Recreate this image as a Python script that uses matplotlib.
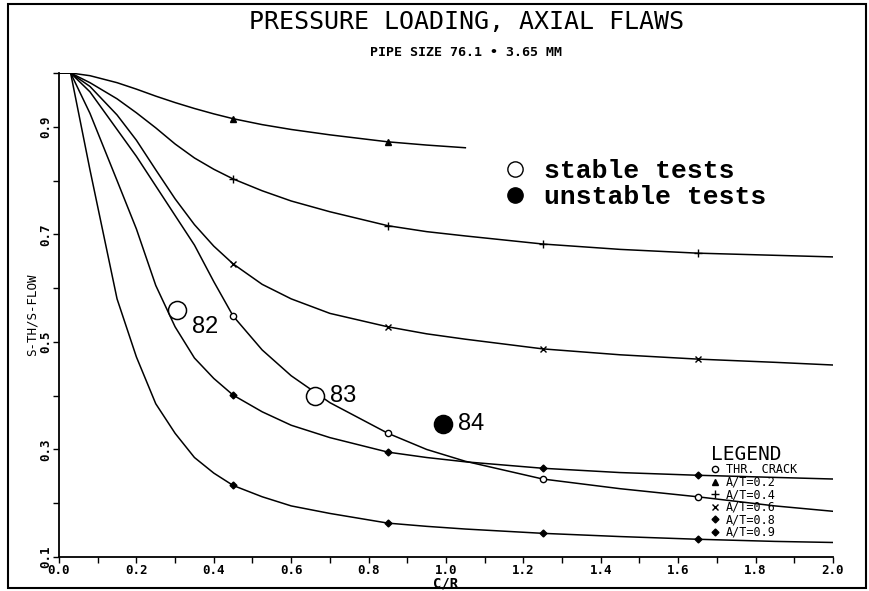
import matplotlib
matplotlib.use("Agg")
import matplotlib.pyplot as plt
from matplotlib.lines import Line2D
from matplotlib.patches import Rectangle

# C/R grid the curves were tabulated on
c_r = [0.0, 0.03, 0.08, 0.15, 0.2, 0.25, 0.3, 0.35, 0.4, 0.45, 0.525, 0.6,
       0.7, 0.85, 0.95, 1.05, 1.25, 1.45, 1.65, 1.85, 2.0]
mark_at = [0.45, 0.85, 1.25, 1.65]

# S-TH/S-FLOW for each flaw depth
at_02 = [1.0, 1.0, 0.995, 0.982, 0.970, 0.957, 0.945, 0.934, 0.924, 0.915,
         0.904, 0.895, 0.885, 0.872, 0.866, 0.861]
at_04 = [1.0, 1.0, 0.982, 0.952, 0.926, 0.898, 0.868, 0.842, 0.821, 0.803,
         0.781, 0.762, 0.742, 0.716, 0.705, 0.697, 0.682, 0.672, 0.665, 0.661,
         0.658]
at_06 = [1.0, 1.0, 0.975, 0.922, 0.875, 0.820, 0.766, 0.718, 0.678, 0.645,
         0.607, 0.580, 0.553, 0.528, 0.515, 0.505, 0.487, 0.476, 0.468, 0.462,
         0.457]
thr_crack = [1.0, 1.0, 0.965, 0.895, 0.845, 0.790, 0.735, 0.680, 0.612, 0.548,
             0.485, 0.437, 0.387, 0.330, 0.300, 0.278, 0.245, 0.227, 0.212,
             0.195, 0.185]
at_08 = [1.0, 1.0, 0.925, 0.800, 0.710, 0.605, 0.528, 0.470, 0.432, 0.401,
         0.370, 0.345, 0.322, 0.295, 0.285, 0.277, 0.265, 0.257, 0.252, 0.248,
         0.245]
at_09 = [1.0, 1.0, 0.820, 0.580, 0.472, 0.385, 0.330, 0.285, 0.256, 0.233,
         0.212, 0.195, 0.181, 0.163, 0.157, 0.152, 0.144, 0.138, 0.133, 0.129,
         0.127]

# pipe tests
test_cr = [0.305, 0.661, 0.992]
test_s = [0.559, 0.399, 0.347]
test_id = ["82", "83", "84"]
test_stable = [True, True, False]

legend_labels = ["THR. CRACK", "A/T=0.2", "A/T=0.4", "A/T=0.6", "A/T=0.8", "A/T=0.9"]

curves = [
    (thr_crack, "o", "white", 4.5),
    (at_02, "^", "black", 4),
    (at_04, "+", "black", 6),
    (at_06, "x", "black", 5),
    (at_08, "D", "black", 3.5),
    (at_09, "D", "black", 3.5),
]

plt.rcParams["font.family"] = ["DejaVu Sans Mono", "DejaVu Sans"]

fig = plt.figure(figsize=(8.7, 5.91), dpi=100)
ax = fig.add_axes([59 / 870, 1 - 557 / 591, (833 - 59) / 870, (557 - 73) / 591])

for vals, mk, fc, ms in curves:
    xs = c_r[:len(vals)]
    idx = [i for i, x in enumerate(xs) if x in mark_at]
    ax.plot(xs, vals, color="black", lw=1.1, marker=mk, ms=ms,
            mfc=fc, mec="black", mew=1.0, markevery=idx)

for x, y, name, ok in zip(test_cr, test_s, test_id, test_stable):
    ax.plot(x, y, "o", ms=13, mfc="white" if ok else "black", mec="black", mew=1.1,
            zorder=5)
    dy = -12 if name == "82" else 0
    ax.annotate(name, (x, y), xytext=(11, dy), textcoords="offset points",
                va="center", ha="left", fontsize=17, family="Liberation Sans")

ax.set_xlim(0, 2.0)
ax.set_ylim(0.1, 1.0)
ax.set_xticks([0.0, 0.2, 0.4, 0.6, 0.8, 1.0, 1.2, 1.4, 1.6, 1.8, 2.0])
ax.set_xticks([0.1, 0.3, 0.5, 0.7, 0.9, 1.1, 1.3, 1.5, 1.7, 1.9], minor=True)
ax.set_yticks([0.1, 0.3, 0.5, 0.7, 0.9])
ax.set_yticks([0.2, 0.4, 0.6, 0.8, 1.0], minor=True)
ax.set_xticklabels(["0.0", "0.2", "0.4", "0.6", "0.8", "1.0", "1.2", "1.4",
                    "1.6", "1.8", "2.0"], fontsize=9, fontweight="bold")
ax.set_yticklabels(["0.1", "0.3", "0.5", "0.7", "0.9"], fontsize=9,
                   fontweight="bold", rotation=90, va="center")
ax.tick_params(which="major", length=4, width=1.0, pad=1)
ax.tick_params(which="minor", length=4, width=1.0)
for s in ("top", "right"):
    ax.spines[s].set_visible(False)
for s in ("left", "bottom"):
    ax.spines[s].set_linewidth(1.3)

ax.set_xlabel("C/R", fontsize=10, fontweight="bold", labelpad=0)
ax.set_ylabel("S-TH/S-FLOW", fontsize=9, labelpad=0)

# curve key
handles = [Line2D([], [], ls="none", marker=mk, color="black", mfc=fc, ms=ms)
           for _, mk, fc, ms in curves]
leg = ax.legend(handles, legend_labels, title="LEGEND", loc="upper left",
                bbox_to_anchor=(0.842, 0.232), frameon=False, fontsize=8.5,
                title_fontsize=14, alignment="left", handlelength=0.8,
                handletextpad=0.5, labelspacing=-0.04, borderpad=0,
                borderaxespad=0)
ax.add_artist(leg)

# test key
test_handles = [
    Line2D([], [], ls="none", marker="o", ms=11, mfc="white", mec="black"),
    Line2D([], [], ls="none", marker="o", ms=11, mfc="black", mec="black"),
]
ax.legend(test_handles, ["stable tests", "unstable tests"], loc="upper left",
          bbox_to_anchor=(0.559, 0.85), frameon=False,
          prop={"family": "Liberation Mono", "weight": "bold", "size": 19},
          handlelength=0.8, handletextpad=0.7, labelspacing=0.1, borderpad=0)

fig.text(467 / 870, 1 - 22 / 591, "PRESSURE LOADING, AXIAL FLAWS",
         ha="center", va="center", fontsize=18)
fig.text(466 / 870, 1 - 52 / 591, "PIPE SIZE 76.1 \u2022 3.65 MM",
         ha="center", va="center", fontsize=9.5, fontweight="bold")

fig.add_artist(Rectangle((8 / 870, 3 / 591), 858 / 870, 584 / 591, fill=False,
                         lw=1.5, ec="black", transform=fig.transFigure))

fig.savefig("out.png", dpi=100)
